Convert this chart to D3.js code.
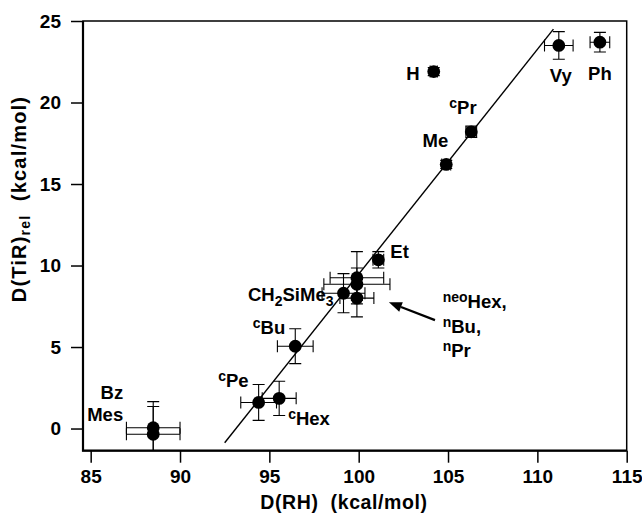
<!DOCTYPE html>
<html>
<head>
<meta charset="utf-8">
<script src="https://cdn.jsdelivr.net/npm/d3@7"></script>
<style>
  body { margin: 0; background: #fff; }
  text { font-family: "Liberation Sans", Arial, Helvetica, sans-serif; font-weight: bold; fill: #000; white-space: pre; }
</style>
</head>
<body>
<svg id="chart" width="642" height="516"></svg>
<script>
// data
const names  = ["Bz", "Mes", "cPe", "cHex", "cBu", "CH2SiMe3", "neoHex", "nBu", "nPr", "Et", "Me", "cPr", "H", "Vy", "Ph"];
const dRH    = [88.5, 88.5, 94.4, 95.55, 96.45, 99.15, 99.9, 99.9, 99.9, 101.1, 104.9, 106.3, 104.2, 111.2, 113.5];
const dTiR   = [0.05, -0.35, 1.6, 1.85, 5.05, 8.3, 9.25, 8.85, 8.0, 10.35, 16.2, 18.2, 21.9, 23.5, 23.7];
const errRH  = [1.5, 1.5, 1.0, 0.95, 1.0, 1.2, 1.5, 1.85, 0.95, 0.3, 0.25, 0.3, 0.2, 0.8, 0.55];
const errTiR = [1.6, 1.7, 1.1, 1.05, 1.07, 1.2, 1.6, 1.0, 1.15, 0.5, 0.25, 0.35, 0.25, 0.85, 0.6];
const fitRH  = [92.5, 110.9];
const fitTiR = [-0.87, 24.5];
const xTicks = [85, 90, 95, 100, 105, 110, 115];
const yTicks = [0, 5, 10, 15, 20, 25];

const points = names.map((n, i) => ({name: n, x: dRH[i], y: dTiR[i], ex: errRH[i], ey: errTiR[i]}));

const svg = d3.select("#chart");
const mLeft = 83, mRight = 626.7, mTop = 21, mBottom = 450.7;

const x = d3.scaleLinear().domain([84.57, 115]).range([mLeft, mRight]);
const y = d3.scaleLinear().domain([-1.36, 25]).range([mBottom, mTop]);

svg.append("defs").append("clipPath").attr("id", "plot")
  .append("rect").attr("x", mLeft).attr("y", mTop).attr("width", mRight - mLeft).attr("height", mBottom - mTop);

// frame
svg.append("rect")
  .attr("x", mLeft).attr("y", mTop).attr("width", mRight - mLeft).attr("height", mBottom - mTop)
  .attr("fill", "none").attr("stroke", "#000").attr("stroke-width", 1.5);
svg.append("path")
  .attr("d", `M${mLeft},${mTop}V${mBottom}H${mRight}`)
  .attr("fill", "none").attr("stroke", "#000").attr("stroke-width", 2.2);

// axes
const xAxis = svg.append("g").attr("transform", `translate(0,${mBottom})`)
  .call(d3.axisBottom(x).tickValues(xTicks).tickSize(12).tickPadding(7));
const yAxis = svg.append("g").attr("transform", `translate(${mLeft},0)`)
  .call(d3.axisLeft(y).tickValues(yTicks).tickSize(12).tickPadding(10));
[xAxis, yAxis].forEach(g => {
  g.select(".domain").remove();
  g.selectAll(".tick line").attr("stroke", "#000").attr("stroke-width", 1.5);
  g.selectAll(".tick text").attr("font-size", 19).attr("fill", "#000");
});

// axis titles
svg.append("text")
  .attr("x", 344).attr("y", 509)
  .attr("text-anchor", "middle").attr("font-size", 19.5)
  .attr("letter-spacing", 0.6)
  .text("D(RH)  (kcal/mol)");

const yt = svg.append("text")
  .attr("transform", "translate(26,199) rotate(-90)")
  .attr("text-anchor", "middle").attr("font-size", 20)
  .attr("letter-spacing", 1.2);
yt.append("tspan").text("D(TiR)");
yt.append("tspan").attr("font-size", 14).attr("dy", 4).text("rel");
yt.append("tspan").attr("dy", -4).text("  (kcal/mol)");

// fit line
svg.append("line")
  .attr("x1", x(fitRH[0])).attr("y1", y(fitTiR[0]))
  .attr("x2", x(fitRH[1])).attr("y2", y(fitTiR[1]))
  .attr("stroke", "#000").attr("stroke-width", 1.4);

// error bars + markers
const plot = svg.append("g").attr("clip-path", "url(#plot)");
const cap = 6;
const eb = plot.append("g").attr("stroke", "#000").attr("stroke-width", 1.1).attr("fill", "none");
eb.selectAll("path").data(points).join("path")
  .attr("d", d => {
    const cx = x(d.x), cy = y(d.y);
    const x0 = x(d.x - d.ex), x1 = x(d.x + d.ex);
    const y0 = y(d.y - d.ey), y1 = y(d.y + d.ey);
    return `M${x0},${cy}H${x1}M${x0},${cy - cap}V${cy + cap}M${x1},${cy - cap}V${cy + cap}` +
           `M${cx},${y0}V${y1}M${cx - cap},${y0}H${cx + cap}M${cx - cap},${y1}H${cx + cap}`;
  });
plot.append("g").selectAll("circle").data(points).join("circle")
  .attr("cx", d => x(d.x)).attr("cy", d => y(d.y)).attr("r", 6.4).attr("fill", "#000");

// point labels: [name, anchor, dx, dy, segments]
const labels = [
  ["H", "end", -14, 8, [["H"]]],
  ["Vy", "middle", 2, 37, [["Vy"]]],
  ["Ph", "middle", 0, 38, [["Ph"]]],
  ["cPr", "start", -22, -18, [["c", "sup"], ["Pr"]]],
  ["Me", "end", 2, -17, [["Me"]]],
  ["Et", "start", 12, -2, [["Et"]]],
  ["CH2SiMe3", "end", -10, 8, [["CH"], ["2", "sub"], ["SiMe"], ["3", "sub"]]],
  ["cBu", "end", -10, -12, [["c", "sup"], ["Bu"]]],
  ["cPe", "end", -10, -15, [["c", "sup"], ["Pe"]]],
  ["cHex", "start", 9, 27, [["c", "sup"], ["Hex"]]],
  ["Bz", "end", -30, -28.5, [["Bz"]]],
  ["Mes", "end", -30, -13.5, [["Mes"]]]
];

function addSegments(t, segs) {
  let shift = 0;
  segs.forEach(([s, kind]) => {
    const target = kind === "sup" ? -6 : kind === "sub" ? 5 : 0;
    t.append("tspan")
      .attr("font-size", kind ? 14 : 18.5)
      .attr("dy", target - shift)
      .text(s);
    shift = target;
  });
}

const byName = new Map(points.map(p => [p.name, p]));
labels.forEach(([n, anchor, dx, dy, segs]) => {
  const p = byName.get(n);
  const t = svg.append("text")
    .attr("x", x(p.x) + dx).attr("y", y(p.y) + dy)
    .attr("text-anchor", anchor).attr("font-size", 18.5);
  addSegments(t, segs);
});

// grouped label for the cluster near 100 kcal/mol
const groupLines = [[["neo", "sup"], ["Hex,"]], [["n", "sup"], ["Bu,"]], [["n", "sup"], ["Pr"]]];
const groupAt = {x: 104.7, y: 7.39, step: 24.5};
groupLines.forEach((segs, i) => {
  const t = svg.append("text")
    .attr("x", x(groupAt.x)).attr("y", y(groupAt.y) + i * groupAt.step)
    .attr("font-size", 18.5);
  addSegments(t, segs);
});

// arrow
const arrow = {x1: 104.27, y1: 6.65, x2: 101.69, y2: 7.74};
const ax1 = x(arrow.x1), ay1 = y(arrow.y1), ax2 = x(arrow.x2), ay2 = y(arrow.y2);
const ang = Math.atan2(ay2 - ay1, ax2 - ax1);
const hl = 13, hw = 5;
const bx = ax2 - hl * Math.cos(ang), by = ay2 - hl * Math.sin(ang);
svg.append("line")
  .attr("x1", ax1).attr("y1", ay1).attr("x2", bx).attr("y2", by)
  .attr("stroke", "#000").attr("stroke-width", 2.2);
svg.append("path")
  .attr("d", `M${ax2},${ay2}L${bx + hw * Math.sin(ang)},${by - hw * Math.cos(ang)}L${bx - hw * Math.sin(ang)},${by + hw * Math.cos(ang)}Z`)
  .attr("fill", "#000");
</script>
</body>
</html>
